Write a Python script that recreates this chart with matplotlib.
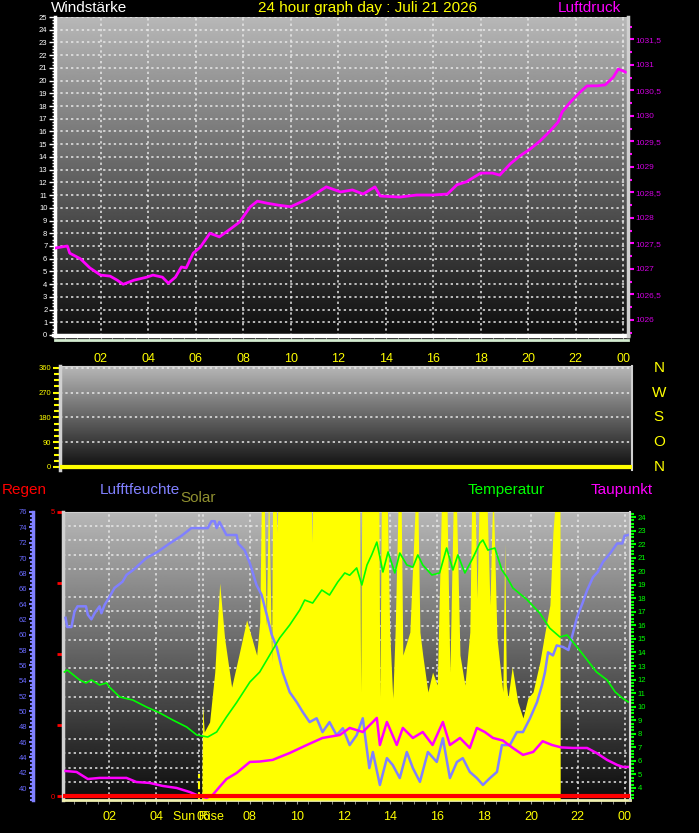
import matplotlib
matplotlib.use("Agg")
import matplotlib.pyplot as plt
import numpy as np
from matplotlib.ticker import MultipleLocator, FuncFormatter

plt.rcParams['font.family'] = ['Liberation Sans', 'DejaVu Sans']

W, H = 699, 833

# --- top panel: wind speed + pressure ---
wind_hours = [0.0, 24.2]
wind_speed = [0, 0]

p_hours = [0.08, 0.6, 0.7, 1.15, 1.55, 2.0, 2.4, 2.7, 2.95, 3.4, 3.95, 4.2, 4.6, 4.85,
           5.15, 5.4, 5.6, 5.9, 6.2, 6.6, 7.0, 7.45, 7.85, 8.3, 8.6, 9.0, 9.5, 10.0,
           10.7, 11.5, 12.1, 12.6, 13.05, 13.55, 13.77, 14.6, 15.3, 16.0, 16.6, 17.0,
           17.4, 18.0, 18.5, 18.8, 19.24, 19.66, 20.08, 20.5, 20.93, 21.26, 21.43,
           21.77, 22.19, 22.48, 22.9, 23.24, 23.58, 23.79, 24.0, 24.1]
pressure = [1027.41, 1027.45, 1027.31, 1027.20, 1027.02, 1026.88, 1026.86, 1026.78,
            1026.70, 1026.78, 1026.84, 1026.88, 1026.84, 1026.72, 1026.84, 1027.04,
            1027.02, 1027.31, 1027.43, 1027.70, 1027.63, 1027.78, 1027.92, 1028.22,
            1028.33, 1028.29, 1028.25, 1028.22, 1028.37, 1028.61, 1028.51, 1028.55,
            1028.47, 1028.61, 1028.43, 1028.41, 1028.45, 1028.45, 1028.47, 1028.65,
            1028.71, 1028.88, 1028.88, 1028.84, 1029.06, 1029.22, 1029.35, 1029.51,
            1029.71, 1029.88, 1030.08, 1030.27, 1030.47, 1030.59, 1030.59, 1030.61,
            1030.76, 1030.92, 1030.88, 1030.86]

# --- middle panel: wind direction ---
wind_dir_hours = [0.0, 24.2]
wind_dir = [0, 0]
compass = ['N', 'W', 'S', 'O', 'N']
compass_deg = [360, 270, 180, 90, 0]

# --- bottom panel ---
rain_hours = [0.0, 24.23]
rain = [0, 0]

h_hours = [0.13, 0.2, 0.38, 0.51, 0.64, 1.0, 1.08, 1.23, 1.37, 1.58, 1.66, 1.8, 2.0,
           2.22, 2.56, 2.73, 3.0, 3.15, 3.58, 4.06, 4.57, 5.08, 5.5, 6.2, 6.36, 6.5,
           6.58, 6.7, 7.0, 7.43, 7.5, 7.78, 8.0, 8.28, 8.5, 8.72, 8.93, 9.15, 9.4,
           9.7, 10.0, 10.26, 10.55, 10.85, 11.1, 11.4, 11.7, 11.97, 12.26, 12.56,
           12.82, 13.1, 13.25, 13.55, 13.85, 14.1, 14.4, 14.7, 14.96, 15.26, 15.6,
           15.98, 16.24, 16.54, 16.84, 17.09, 17.39, 17.69, 17.95, 18.25, 18.55,
           18.76, 19.1, 19.4, 19.66, 19.96, 20.26, 20.47, 20.6, 20.73, 20.94, 21.1,
           21.37, 21.6, 21.75, 21.97, 22.2, 22.4, 22.65, 22.86, 23.08, 23.38, 23.68,
           23.9, 24.0, 24.15]
humidity = [62.2, 61.0, 61.0, 63.0, 63.7, 63.7, 62.6, 62.0, 62.8, 63.7, 62.8, 63.9,
            64.9, 66.1, 66.9, 67.8, 68.4, 68.8, 70.0, 70.8, 71.9, 72.9, 73.9, 73.9,
            74.8, 74.8, 73.9, 74.7, 73.0, 73.0, 71.9, 71.0, 69.3, 66.5, 65.2, 62.6,
            60.0, 58.3, 55.1, 52.5, 51.2, 49.9, 48.6, 49.1, 47.3, 48.6, 46.9, 47.8,
            45.6, 46.9, 49.1, 42.6, 44.7, 40.4, 43.9, 43.0, 41.3, 44.7, 42.6, 40.8,
            44.7, 43.4, 46.5, 41.3, 43.4, 43.9, 42.1, 41.3, 40.4, 41.3, 42.1, 45.6,
            45.6, 47.3, 47.3, 49.1, 51.2, 53.4, 55.1, 57.7, 57.3, 58.6, 58.4, 58.0,
            59.7, 62.3, 64.1, 65.8, 67.5, 68.2, 69.5, 70.6, 71.9, 71.9, 72.9, 73.0]

t_hours = [0.08, 0.2, 0.73, 1.0, 1.23, 1.58, 1.88, 2.0, 2.44, 3.0, 3.58, 4.15, 4.7,
           5.3, 5.73, 6.2, 6.58, 7.0, 7.43, 8.0, 8.42, 8.85, 9.27, 9.7, 10.13, 10.34,
           10.68, 11.07, 11.4, 11.75, 12.05, 12.26, 12.56, 12.78, 13.0, 13.2, 13.42,
           13.68, 13.9, 14.19, 14.4, 14.7, 14.96, 15.17, 15.38, 15.77, 16.1, 16.4,
           16.67, 16.88, 17.18, 17.52, 17.82, 17.95, 18.16, 18.46, 18.76, 18.97,
           19.23, 19.83, 20.38, 20.8, 21.24, 21.54, 21.97, 22.4, 22.8, 23.25, 23.6,
           23.9, 24.15]
temperature = [12.56, 12.71, 11.97, 11.75, 11.97, 11.6, 11.75, 11.45, 10.72, 10.49,
               9.98, 9.54, 9.02, 8.5, 7.91, 7.76, 8.13, 9.24, 10.3, 11.82, 12.56,
               13.82, 15.07, 16.03, 17.14, 17.87, 17.65, 18.61, 18.24, 19.2, 19.87,
               19.7, 20.24, 18.98, 20.46, 21.2, 22.15, 19.94, 21.42, 19.87, 21.34,
               20.46, 20.3, 21.2, 20.46, 19.72, 19.87, 21.71, 20.09, 21.2, 19.87,
               20.97, 22.08, 22.3, 21.56, 21.71, 20.09, 19.57, 18.76, 17.9, 16.9,
               15.8, 15.14, 15.29, 14.4, 13.45, 12.56, 11.97, 11.08, 10.64, 10.35]

d_hours = [0.13, 0.6, 1.08, 1.58, 2.14, 2.73, 3.15, 3.72, 4.27, 4.87, 5.43, 5.73,
           6.15, 6.41, 6.7, 7.0, 7.43, 8.0, 8.42, 8.97, 9.7, 10.43, 11.1, 11.84,
           12.26, 12.82, 13.25, 13.42, 13.55, 13.85, 14.27, 14.53, 14.96, 15.38,
           15.8, 16.24, 16.54, 16.97, 17.39, 17.69, 18.03, 18.38, 18.8, 19.23,
           19.66, 20.1, 20.5, 20.9, 21.3, 21.8, 22.4, 22.8, 23.25, 23.68, 23.93, 24.15]
dewpoint = [5.25, 5.18, 4.66, 4.74, 4.74, 4.74, 4.44, 4.37, 4.15, 4.0, 3.7, 3.48,
            3.26, 3.48, 4.07, 4.66, 5.1, 5.92, 5.95, 6.07, 6.58, 7.17, 7.69, 7.91,
            8.43, 8.13, 8.87, 9.17, 7.17, 8.87, 7.17, 8.43, 7.69, 8.13, 7.17, 8.87,
            7.17, 7.69, 6.95, 8.43, 8.13, 7.69, 7.5, 6.95, 6.44, 6.66, 7.45, 7.17,
            6.99, 6.95, 6.95, 6.58, 6.07, 5.7, 5.55, 5.55]

s_hours = [5.95, 5.98, 6.05, 6.28, 6.5, 6.71, 6.92, 7.22, 7.56, 7.86, 8.08, 8.29, 8.42,
           8.5, 8.6, 8.7, 8.8, 8.85, 8.93, 8.97, 9.1, 9.15, 9.25, 10.6, 10.65, 10.7,
           12.68, 12.73, 12.78, 13.5, 13.55, 13.62, 13.85, 13.97, 14.1, 14.2, 14.35,
           14.45, 14.53, 14.83, 15.1, 15.16, 15.26, 15.38, 15.6, 15.8, 16.0, 16.2,
           16.4, 16.54, 16.7, 16.8, 16.97, 17.18, 17.39, 17.48, 17.6, 17.7, 17.8,
           18.1, 18.25, 18.38, 18.55, 18.8, 18.88, 18.95, 19.02, 19.2, 19.44, 19.66,
           19.87, 20.09, 20.38, 20.6, 20.81, 20.94, 21.1, 21.24, 21.25]
solar = [0, 330, 236, 271, 444, 753, 562, 392, 514, 625, 562, 503, 618, 1100, 1100,
         600, 1100, 850, 479, 1100, 1100, 930, 1100, 1100, 895, 1100, 1100, 375, 1100,
         1100, 354, 1100, 1100, 583, 354, 583, 1100, 1100, 503, 583, 1100, 1100, 583,
         503, 375, 444, 399, 1100, 1100, 444, 1100, 1100, 503, 399, 583, 1100, 1100,
         700, 1100, 1100, 677, 1100, 562, 375, 892, 400, 354, 462, 340, 285, 354, 375,
         479, 583, 677, 930, 1100, 1100, 0]

sunrise = 5.81


def box(l, t, r, b):
    return [l / W, 1 - b / H, (r - l) / W, (b - t) / H]


def backdrop(ax):
    grad = np.linspace(0.72, 0.05, 256).reshape(-1, 1)
    ax.imshow(grad, cmap='gray', vmin=0, vmax=1, aspect='auto', extent=(0, 1, 0, 1),
              transform=ax.transAxes, zorder=0, interpolation='bilinear')


def hour_fmt(v, pos):
    return "%02d" % (int(round(v)) % 24)


def pres_fmt(v, pos):
    s = "%.1f" % v
    if s.endswith(".0"):
        return s[:-2]
    return s.replace(".", ",")


dots = dict(color='#e8e8e8', linestyle=(0, (1.5, 2)), linewidth=1.1)

fig = plt.figure(figsize=(W / 100, H / 100), dpi=100, facecolor='black')

# ---------------- top panel ----------------
ax1 = fig.add_axes(box(55, 17, 628, 336))
backdrop(ax1)
ax1.set_xlim(0.08, 24.2)
ax1.set_ylim(-0.08, 25)
ax1.plot(wind_hours, wind_speed, color='white', lw=2.5, clip_on=False, zorder=3)
ax1.xaxis.set_major_locator(MultipleLocator(2))
ax1.xaxis.set_minor_locator(MultipleLocator(0.5))
ax1.xaxis.set_major_formatter(FuncFormatter(hour_fmt))
ax1.yaxis.set_major_locator(MultipleLocator(1))
ax1.yaxis.set_minor_locator(MultipleLocator(0.25))
ax1.grid(True, which='major', **dots)
ax1.tick_params(axis='x', which='both', colors='#9a9a9a', labelcolor='yellow',
                labelsize=9, length=3, pad=9)
ax1.tick_params(axis='y', which='major', colors='white', labelsize=5.5, length=4,
                width=1, pad=1.5)
ax1.tick_params(axis='y', which='minor', colors='white', length=2.5, width=1)
ax1.spines['left'].set_color('white')
ax1.spines['left'].set_linewidth(2.5)
ax1.spines['bottom'].set_color('white')
ax1.spines['bottom'].set_linewidth(2.5)
ax1.spines['top'].set_visible(False)
ax1.spines['right'].set_visible(False)
ax1.plot([0, 1], [-0.012, -0.012], transform=ax1.transAxes, color='#d4ecd0', lw=2,
         clip_on=False)

axp = ax1.twinx()
axp.set_ylim(1025.686, 1031.94)
axp.plot(p_hours, pressure, color='#ff00ff', lw=2)
axp.yaxis.set_major_locator(MultipleLocator(0.5))
axp.yaxis.set_minor_locator(MultipleLocator(0.25))
axp.yaxis.set_major_formatter(FuncFormatter(pres_fmt))
axp.tick_params(axis='y', which='major', colors='#ff00ff', labelcolor='#d000e0',
                labelsize=6, length=4, width=1.5, pad=1.5)
axp.tick_params(axis='y', which='minor', colors='#ff00ff', length=3, width=1.5)
for side in ['left', 'top', 'bottom']:
    axp.spines[side].set_visible(False)
axp.spines['right'].set_color('#d0d0d0')
axp.spines['right'].set_linewidth(2.5)

# ---------------- middle panel ----------------
ax2 = fig.add_axes(box(60, 366, 632, 470))
backdrop(ax2)
ax2.set_xlim(0, 24.2)
ax2.set_ylim(-11, 367)
ax2.plot(wind_dir_hours, wind_dir, color='yellow', lw=3, zorder=3)
ax2.set_xticks([])
ax2.yaxis.set_major_locator(MultipleLocator(90))
ax2.yaxis.set_minor_locator(MultipleLocator(22.5))
ax2.yaxis.grid(True, which='major', **dots)
ax2.tick_params(axis='y', which='major', colors='yellow', labelsize=5.5, length=5,
                width=1.5, pad=1.5)
ax2.tick_params(axis='y', which='minor', colors='yellow', length=4, width=1.5)
for side in ['left', 'top', 'right']:
    ax2.spines[side].set_color('#d0d0d0')
ax2.spines['left'].set_linewidth(2.5)
ax2.spines['right'].set_linewidth(1.5)
ax2.spines['bottom'].set_visible(False)
for lab, deg in zip(compass, compass_deg):
    ax2.text(1.047, deg, lab, transform=ax2.get_yaxis_transform(), color='yellow',
             fontsize=11, ha='center', va='center')

# ---------------- bottom panel ----------------
ax3 = fig.add_axes(box(63, 512, 630, 800))
backdrop(ax3)
ax3.set_xlim(0.02, 24.23)
ax3.set_ylim(-0.07, 5)
ax3.xaxis.set_major_locator(MultipleLocator(2))
ax3.xaxis.set_minor_locator(MultipleLocator(0.5))
ax3.xaxis.set_major_formatter(FuncFormatter(hour_fmt))
ax3.yaxis.set_major_locator(MultipleLocator(1.25))
ax3.yaxis.set_minor_locator(MultipleLocator(0.25))
ax3.yaxis.set_major_formatter(FuncFormatter(lambda v, p: "%d" % v if v in (0, 5) else ""))
ax3.xaxis.grid(True, which='major', **dots)
ax3.yaxis.grid(True, which='minor', **dots)
ax3.axvline(sunrise, **dots)
ax3.axvline(sunrise, ymin=0, ymax=0.09, color='yellow', ls='--', lw=1.5)
ax3.tick_params(axis='x', which='both', colors='#9a9a9a', labelcolor='yellow',
                labelsize=9, length=3, pad=5)
ax3.tick_params(axis='y', which='major', colors='red', labelsize=5.5, length=4,
                width=2, pad=1.5)
ax3.tick_params(axis='y', which='minor', length=0)
for side in ['left', 'top', 'right', 'bottom']:
    ax3.spines[side].set_color('#d0d0d0')
ax3.spines['left'].set_linewidth(2.5)
ax3.spines['bottom'].set_color('#f0f0b0')
ax3.spines['bottom'].set_linewidth(2)
ax3.text(sunrise, -0.06, 'Sun Rise', transform=ax3.get_xaxis_transform(), color='yellow',
         fontsize=9, ha='center', va='center')

axs = ax3.twinx()
axs.set_ylim(0, 1000)
axs.fill_between(s_hours, solar, color='yellow', lw=0)
axs.axis('off')

axh = ax3.twinx()
axh.set_ylim(38.44, 76)
axh.plot(h_hours, humidity, color='#8080ff', lw=1.8)
axh.yaxis.tick_left()
axh.spines['left'].set_position(('axes', -30 / 567))
axh.spines['left'].set_color('#8080ff')
axh.spines['left'].set_linewidth(2.5)
for side in ['top', 'right', 'bottom']:
    axh.spines[side].set_visible(False)
axh.yaxis.set_major_locator(MultipleLocator(2))
axh.yaxis.set_minor_locator(MultipleLocator(0.5))
axh.tick_params(axis='y', which='major', colors='#8080ff', labelcolor='#6a6aff',
                labelsize=5.5, length=3, width=1.5, pad=1)
axh.tick_params(axis='y', which='minor', colors='#8080ff', length=2, width=1.5)

axt = ax3.twinx()
axt.set_ylim(3.11, 24.37)
axt.plot(t_hours, temperature, color='#00ff00', lw=1.2)
axt.plot(d_hours, dewpoint, color='#ff00ff', lw=1.8)
for side in ['top', 'left', 'bottom']:
    axt.spines[side].set_visible(False)
axt.spines['right'].set_color('#d0d0d0')
axt.spines['right'].set_linewidth(1.5)
axt.yaxis.set_major_locator(MultipleLocator(1))
axt.yaxis.set_minor_locator(MultipleLocator(0.25))
axt.tick_params(axis='y', which='major', colors='#00ff00', labelsize=5.5, length=4,
                width=1.5, pad=1.5)
axt.tick_params(axis='y', which='minor', colors='#00ff00', length=3, width=1.5)

axr = ax3.twinx()
axr.set_ylim(ax3.get_ylim())
axr.plot(rain_hours, rain, color='red', lw=3)
axr.axis('off')

# ---------------- header texts ----------------
def ftext(x, y, s, color):
    fig.text(x / W, 1 - y / H, s, color=color, fontsize=11, ha='left', va='center')

ftext(51, 8, 'Windstärke', 'white')
ftext(258, 8, '24 hour graph day : Juli 21 2026', 'yellow')
ftext(558, 8, 'Luftdruck', '#ff00ff')
ftext(2, 490, 'Regen', 'red')
ftext(100, 490, 'Lufftfeuchte', '#8080ff')
ftext(180, 498, 'Solar', '#909030')
ftext(468, 490, 'Temperatur', '#00ff00')
ftext(591, 490, 'Taupunkt', '#ff00ff')

fig.savefig('out.png', dpi=100, facecolor='black')
